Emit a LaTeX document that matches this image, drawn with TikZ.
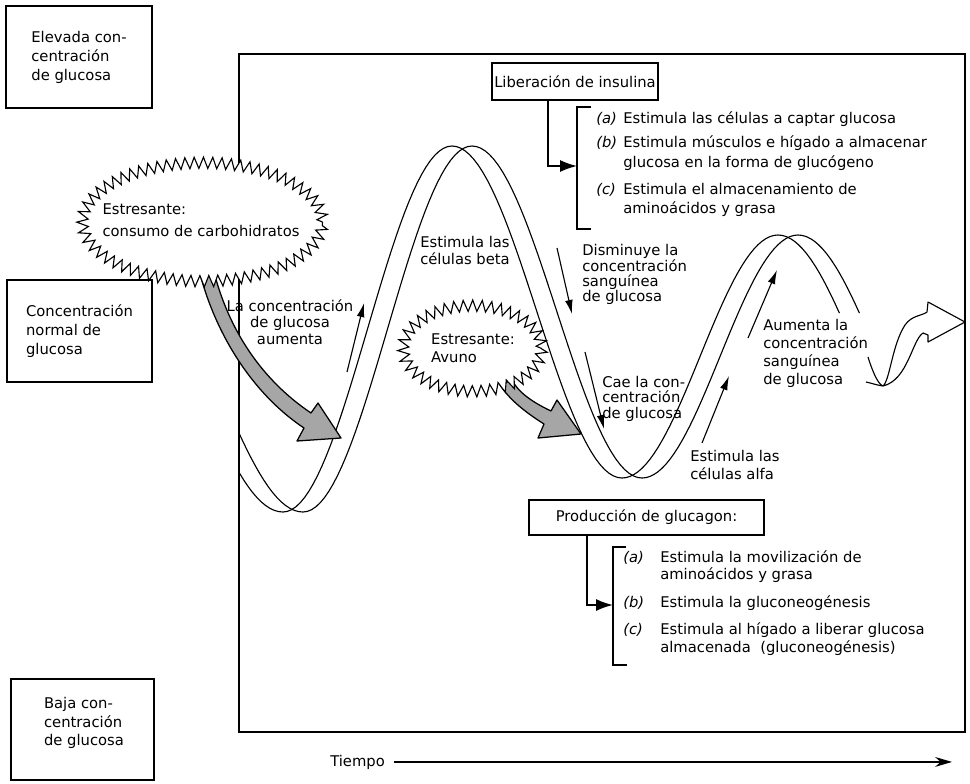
\documentclass[tikz,border=0pt]{standalone}
\usepackage{fontspec}
\setmainfont{DejaVu Sans}
\usetikzlibrary{arrows.meta, decorations.pathmorphing}

\begin{document}
\begin{tikzpicture}[
    x=0.025cm, y=-0.025cm,
    every node/.style={font=\fontsize{10.5}{13}\selectfont, inner sep=0pt},
    levelbox/.style={draw, line width=0.9pt, align=left, font=\fontsize{10.5}{13.5}\selectfont},
    frame/.style={line width=1.1pt},
    tagbox/.style={draw, line width=0.9pt},
    note/.style={align=left, anchor=base west},
    ribbon/.style={line width=0.8pt, line join=round},
    thinarrow/.style={line width=0.8pt, -{Latex[length=10pt, width=5.5pt]}},
    feed/.style={line width=1.2pt, -{Latex[length=12pt, width=8.5pt]}},
    bracket/.style={line width=0.9pt},
    burst/.style={draw, fill=white, line width=0.8pt, decorate, decoration={zigzag, segment length=6.5pt, amplitude=4pt}},
    stressarrow/.style={draw, line width=0.9pt, fill=black!35, line join=round},
    timearrow/.style={line width=0.8pt, -{Stealth[length=12pt, width=7pt]}}
    ]
    \useasboundingbox (0,0) rectangle (970,783);

    % graph frame
    \draw[frame] (239,54) rectangle (965,732);

    % glucose ribbon (two strands, shifted)
    \begin{scope}
      \clip (240,52) -- (965,52) -- (965,313) -- (805,313) -- (805,733) -- (240,733) -- cycle;
      \foreach \xa/\ya/\xb/\yb in {123/258/293/512, 293/512/462/146, 462/146/632/478, 632/478/788/235, 788/235/948/478}
        \foreach \dx in {-10,10}
          \draw[ribbon] plot[domain=0:1, samples=40] ({\xa+\x*(\xb-\xa)+(\dx)}, {\ya+(\yb-\ya)*(1-cos(180*\x))/2});
    \end{scope}

    % last trough with the open arrow
    \draw[ribbon] (868,357) .. controls (873,373) and (878,384) .. (883,386)
      .. controls (890,380) and (892,345) .. (905,325)
      .. controls (912,315) and (922,316) .. (927,312) -- (928,302) -- (965,322) -- (928,342) -- (928,335) -- (923,333)
      .. controls (912,340) and (908,380) .. (883,386)
      .. controls (876,385) and (871,383) .. (866,382);

    % stress arrows
    \draw[stressarrow] (199,270) .. controls (214,330) and (250,392) .. (304,428) -- (297,441) -- (341,438)
      -- (318,403) -- (311,413) .. controls (262,380) and (228,330) .. (213,268) -- cycle;
    \draw[stressarrow] (500,385) .. controls (510,400) and (525,412) .. (544,424) -- (538,438) -- (581,434)
      -- (557,400) -- (551,411) .. controls (532,402) and (518,392) .. (512,380) -- cycle;

    % stressors
    \draw[burst] (202.5,222) ellipse [x radius=3.0cm, y radius=1.48cm];
    \node (carbo) [align=left, font=\fontsize{10.5}{15.5}\selectfont] at (201,220) {Estresante:\\consumo de carbohidratos};
    \draw[burst] (472.5,348.5) ellipse [x radius=1.73cm, y radius=1.07cm];
    \node (fast) [align=left, font=\fontsize{10.5}{12.5}\selectfont] at (473,348) {Estresante:\\Avuno};

    % level boxes
    \node (high) [levelbox, minimum width=3.65cm, minimum height=2.55cm] at (79,57) {Elevada con-\\centración\\de glucosa};
    \node (normal) [levelbox, minimum width=3.625cm, minimum height=2.55cm] at (79.5,331) {Concentración\\normal de\\glucosa};
    \node (lowbox) [levelbox, minimum width=3.575cm, minimum height=2.525cm] at (82.5,729.5) {};
    \node (low) [align=left, font=\fontsize{10.5}{13}\selectfont] at (84,723) {Baja con-\\centración\\de glucosa};

    % labels along the curve (base = last line)
    \node (rise) [align=center, anchor=base, font=\fontsize{10.5}{11.7}\selectfont] at (290,344) {La concentración\\de glucosa\\aumenta};
    \coordinate (risea) at (347,372);
    \coordinate (riseb) at (364,303);
    \draw[thinarrow] (risea) -- (riseb);

    \node (beta) [note, font=\fontsize{10.5}{11.5}\selectfont] at (420,264) {Estimula las\\células beta};

    \node (drop) [note, font=\fontsize{10.5}{10.5}\selectfont] at (582,301) {Disminuye la\\concentración\\sanguínea\\de glucosa};
    \coordinate (dropa) at (557,248);
    \coordinate (dropb) at (572,314);
    \draw[thinarrow] (dropa) -- (dropb);

    \node (fall) [note, font=\fontsize{10.5}{10.8}\selectfont] at (602,418) {Cae la con-\\centración\\de glucosa};
    \coordinate (falla) at (585,352);
    \coordinate (fallb) at (604,429);
    \draw[thinarrow] (falla) -- (fallb);

    \node (alfa) [note, font=\fontsize{10.5}{12.8}\selectfont] at (690,479) {Estimula las\\células alfa};
    \coordinate (alfaa) at (702,443);
    \coordinate (alfab) at (729,376);
    \draw[thinarrow] (alfaa) -- (alfab);

    \node (up) [note, font=\fontsize{10.5}{12.8}\selectfont] at (763,384) {Aumenta la\\concentración\\sanguínea\\de glucosa};
    \coordinate (upa) at (748,338);
    \coordinate (upb) at (777,270);
    \draw[thinarrow] (upa) -- (upb);

    % insulin
    \node (insulin) [tagbox, minimum width=4.15cm, minimum height=0.925cm] at (575,81.5) {Liberación de insulina};
    \coordinate (insbrk) at (577,166);
    \draw[feed] ([xshift=-0.675cm]insulin.south) |- (insbrk);
    \draw[bracket] (591,107) -- (577,107) -- (577,229) -- (591,229);
    \node (ia) [note] at (596,123) {\itshape (a)};
    \node (iatext) [note] at (623,123) {Estimula las células a captar glucosa};
    \node (ib) [note] at (596,147) {\itshape (b)};
    \node (ibtext) [note, font=\fontsize{10.5}{14}\selectfont] at (623,167) {Estimula músculos e hígado a almacenar\\glucosa en la forma de glucógeno};
    \node (ic) [note] at (596,194) {\itshape (c)};
    \node (ictext) [note, font=\fontsize{10.5}{13.5}\selectfont] at (623,213) {Estimula el almacenamiento de\\aminoácidos y grasa};

    % glucagon
    \node (glucagon) [tagbox, minimum width=5.875cm, minimum height=0.875cm] at (646.5,517.5) {Producción de glucagon:};
    \coordinate (glubrk) at (613,605);
    \draw[feed] ([xshift=-1.49cm]glucagon.south) |- (glubrk);
    \draw[bracket] (626,547) -- (613,547) -- (613,665) -- (627,665);
    \node (ga) [note] at (623,562) {\itshape (a)};
    \node (gatext) [note, font=\fontsize{10.5}{12}\selectfont] at (660,579) {Estimula la movilización de\\aminoácidos y grasa};
    \node (gb) [note] at (623,607) {\itshape (b)};
    \node (gbtext) [note] at (660,607) {Estimula la gluconeogénesis};
    \node (gc) [note] at (623,634) {\itshape (c)};
    \node (gctext) [note, font=\fontsize{10.5}{12.8}\selectfont] at (660,652) {Estimula al hígado a liberar glucosa\\almacenada~ (gluconeogénesis)};

    % time axis
    \node (tiempo) [anchor=base west] at (330,766) {Tiempo};
    \coordinate (tend) at (952,762);
    \draw[timearrow] ([xshift=6pt]tiempo.east) -- (tiempo.east -| tend);
\end{tikzpicture}
\end{document}
